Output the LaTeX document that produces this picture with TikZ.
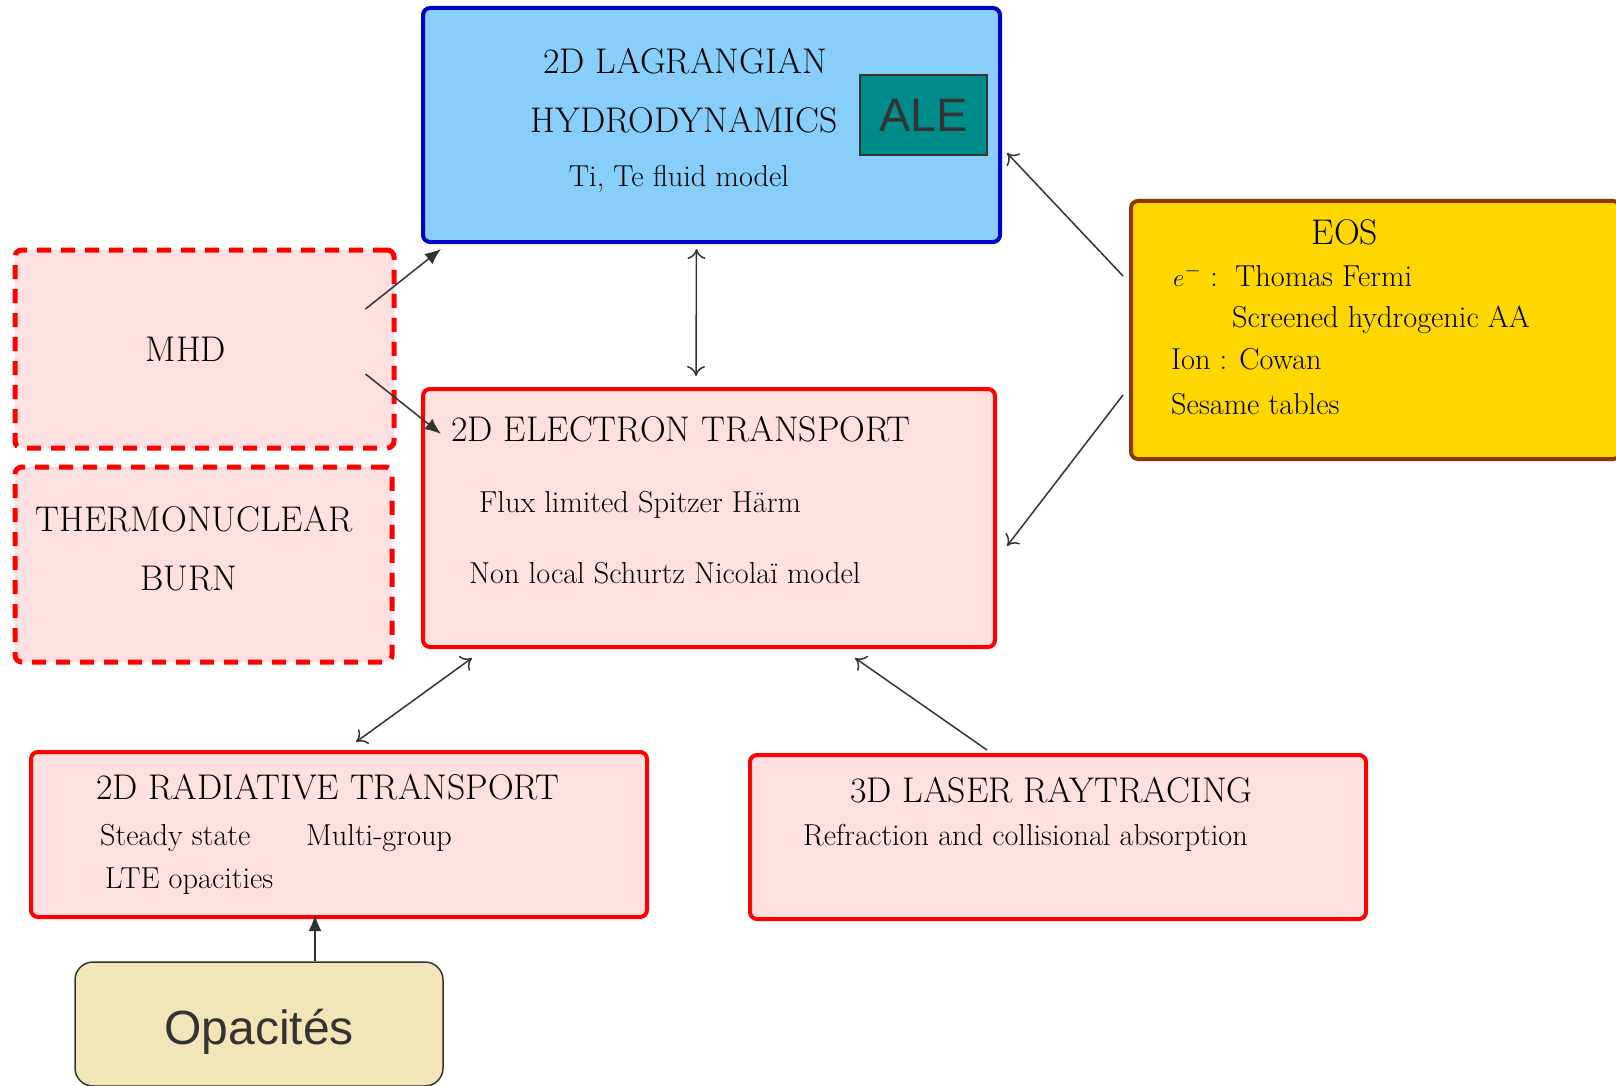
\documentclass[tikz,border=0pt]{standalone}
\usepackage{fontspec}
\newfontfamily\arialfont{Liberation Sans}
\usetikzlibrary{arrows.meta,positioning,calc}
\definecolor{skyfill}{HTML}{87CEFA}
\definecolor{skyline}{HTML}{0000CC}
\definecolor{pinkfill}{HTML}{FFE0E1}
\definecolor{gold}{HTML}{FFD700}
\definecolor{brownline}{HTML}{8B3A06}
\definecolor{alefill}{HTML}{008B8B}
\definecolor{sand}{HTML}{F2E6B8}
\definecolor{ink}{HTML}{333333}

\begin{document}
\begin{tikzpicture}[x=1pt,y=-1pt,
  box/.style={draw=red,fill=pinkfill,line width=4pt,rounded corners=7pt,inner sep=0pt},
  dbox/.style={box,line width=5pt,dash pattern=on 14pt off 10pt},
  head/.style={inner sep=0pt,anchor=base,font=\fontsize{35.7}{40}\selectfont},
  txt/.style={inner sep=0pt,anchor=base west,font=\fontsize{30.3}{34}\selectfont},
  arr/.style={-{Latex[length=16pt,width=13pt]},line width=1.5pt,ink},
  barb/.style={-{To[length=10pt,width=18pt]},line width=1.5pt,ink},
  dbarb/.style={{To[length=10pt,width=18pt]}-{To[length=10pt,width=18pt]},line width=1.5pt,ink}]
\useasboundingbox (0,0) rectangle (1616,1086);

% boxes
\node[box,draw=skyline,fill=skyfill,minimum width=577pt,minimum height=234pt] (hydro) at (711.5,125) {};
\node[draw=ink,fill=alefill,line width=1.5pt,minimum width=127pt,minimum height=80pt,inner sep=0pt,
  font=\arialfont\fontsize{47}{50}\selectfont,text=ink] (ale) at (923.5,115) {ALE};
\node[box,draw=brownline,fill=gold,minimum width=489pt,minimum height=258pt] (eos) at (1375.5,330) {};
\node[dbox,minimum width=379pt,minimum height=198pt] (mhd) at (204.5,349) {};
\node[dbox,minimum width=377pt,minimum height=195pt] (burn) at (203.5,564.5) {};
\node[box,minimum width=572pt,minimum height=258pt] (elec) at (709,518) {};
\node[box,minimum width=616pt,minimum height=165pt] (rad) at (339,834.5) {};
\node[box,minimum width=616pt,minimum height=164pt] (laser) at (1058,837) {};
\node[draw=ink,fill=sand,line width=1.5pt,rounded corners=18pt,minimum width=368pt,minimum height=124pt] (opac) at (259,1024) {};
\node[inner sep=0pt,anchor=base,font=\arialfont\fontsize{48}{50}\selectfont,text=ink] (opact) at (259,1044) {Opacités};

% texts
\node[head] (hyd1) at (685,74) {2D LAGRANGIAN};
\node[head] (hyd2) at (684,133) {HYDRODYNAMICS};
\node[txt,anchor=base] (hyd3) at (679,187) {Ti, Te fluid model};

\node[head] (eost) at (1345,244) {EOS};
\node[txt] (eos1) at (1173,286) {$e^-$ :};
\node[txt] (eos2) at (1235,286) {Thomas Fermi};
\node[txt] (eos3) at (1232,327) {Screened hydrogenic AA};
\node[txt] (eos4) at (1171,369) {Ion : Cowan};
\node[txt] (eos5) at (1171,414) {Sesame tables};

\node[head] (mhdt) at (186,361) {MHD};
\node[head] (burn1) at (194,531) {THERMONUCLEAR};
\node[head] (burn2) at (189,590) {BURN};

\node[head,anchor=base west] (elec1) at (451,441) {2D ELECTRON TRANSPORT};
\node[txt] (elec2) at (479,512) {Flux limited Spitzer Härm};
\node[txt] (elec3) at (469,583) {Non local Schurtz Nicolaï model};

\node[head,anchor=base west] (rad1) at (96,799) {2D RADIATIVE TRANSPORT};
\node[txt] (rad2) at (100,845) {Steady state};
\node[txt] (rad3) at (306,845) {Multi-group};
\node[txt] (rad4) at (105,888) {LTE opacities};

\node[head,anchor=base west] (las1) at (850,802) {3D LASER RAYTRACING};
\node[txt] (las2) at (803,845) {Refraction and collisional absorption};

% links
\draw[arr] ($(mhd.east)+(-31,-40)$) -- ($(hydro.south west)+(20,5)$);
\draw[arr] ($(mhd.east)+(-31,25)$) -- ($(elec.north west)+(20,47)$);
\draw[dbarb] ($(hydro.south)+(-15,5)$) -- ($(elec.north)+(-13,-11)$);
\draw[barb] ($(eos.west)+(-6,-54)$) -- ($(hydro.east)+(5,28)$);
\draw[barb] ($(eos.west)+(-6,65)$) -- ($(elec.east)+(10,28)$);
\draw[dbarb] ($(elec.south west)+(51,9)$) -- ($(rad.north)+(17,-8)$);
\draw[barb] ($(laser.north)+(-71,-3)$) -- ($(elec.south)+(146,9)$);
\draw[arr] ($(opac.north)+(56,0)$) -- ($(rad.south)+(-24,-4)$);
\end{tikzpicture}
\end{document}
